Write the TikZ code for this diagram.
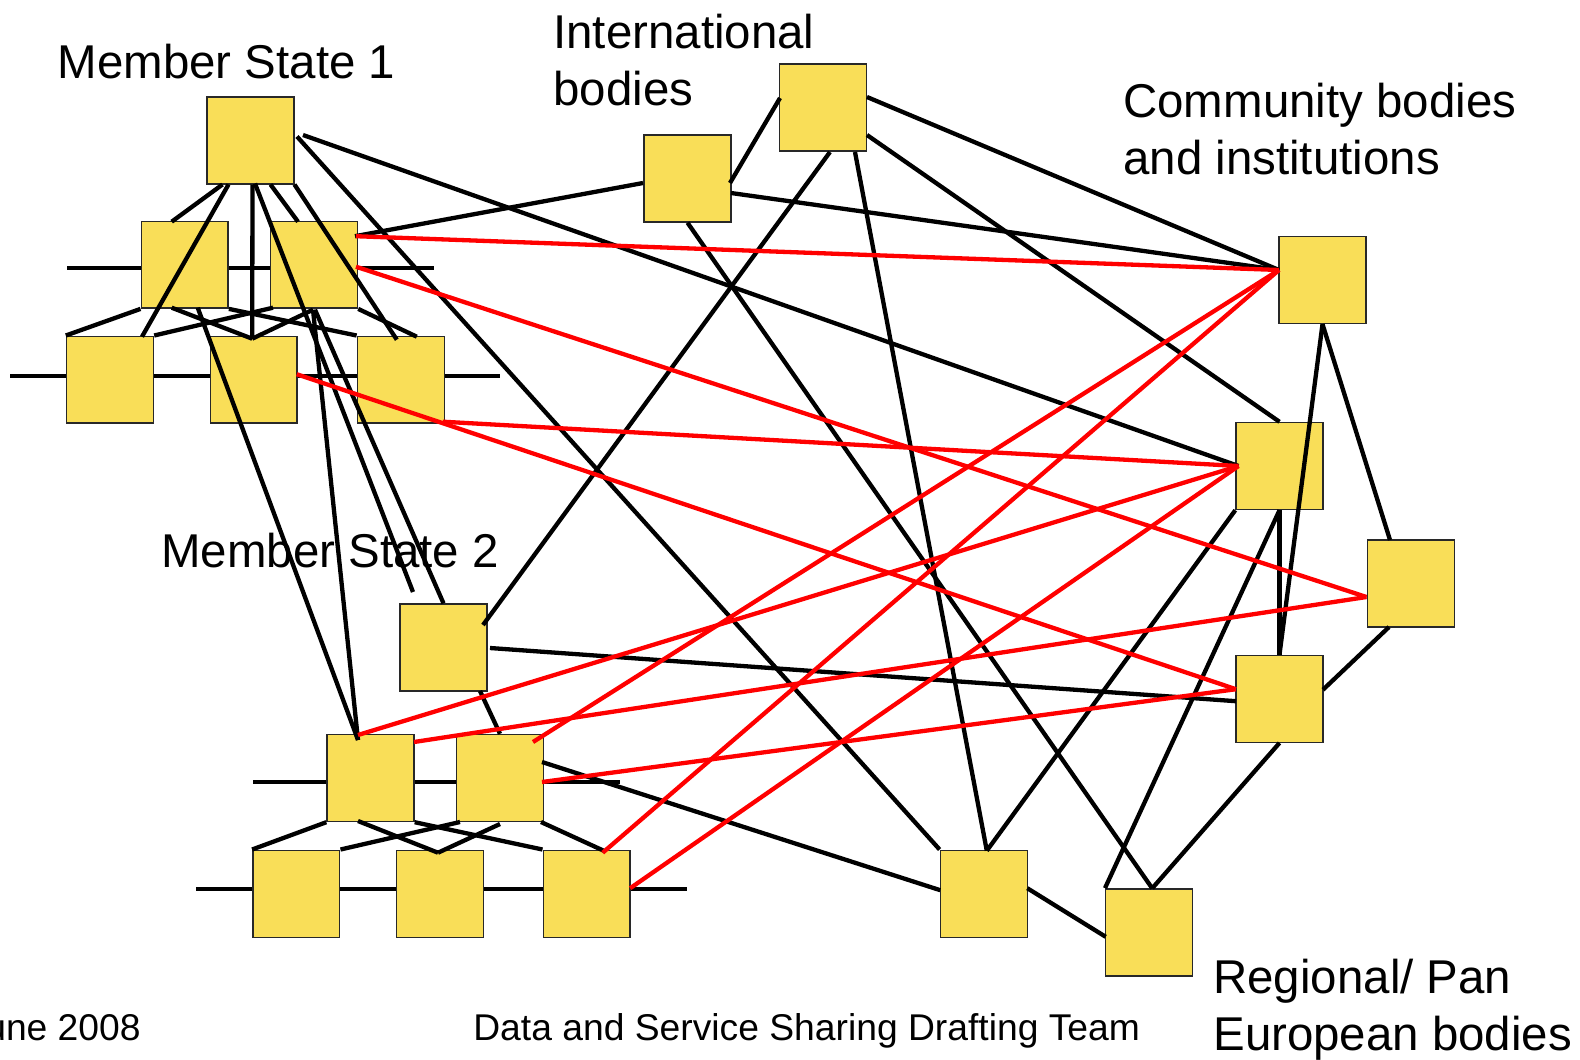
\documentclass[tikz,border=0pt]{standalone}
\usepackage{fontspec}
\setmainfont{Liberation Sans}
\definecolor{boxfill}{RGB}{249, 222, 88}
\definecolor{boxline}{RGB}{40, 40, 40}
\definecolor{sharered}{RGB}{255, 0, 0}
\usetikzlibrary{calc}
\tikzset{
    orgbox/.style={
        rectangle,
        draw=boxline,
        fill=boxfill,
        line width=0.8pt,
        minimum width=1.74cm,
        minimum height=1.74cm,
        inner sep=0pt
    },
    grouplabel/.style={
        anchor=base west,
        inner sep=0pt,
        align=left,
        font=\fontsize{27}{32.5}\selectfont
    },
    footlabel/.style={anchor=base west, inner sep=0pt, font=\fontsize{21.2}{25}\selectfont},
    busstyle/.style={line width=2.45pt, color=black},
    linkstyle/.style={line width=2.45pt, color=black},
    sharestyle/.style={line width=2.45pt, color=sharered}
}

\begin{document}
\begin{tikzpicture}[x=0.02cm, y=-0.02cm]
          \useasboundingbox (0,0) rectangle (1580,1059);

          \coordinate (busa-w) at (67,268.3);
          \coordinate (busa-e) at (434,268.3);
          \coordinate (busb-w) at (10,375.7);
          \coordinate (busb-e) at (500,375.7);
          \coordinate (busc-w) at (253,781.7);
          \coordinate (busc-e) at (620,781.7);
          \coordinate (busd-w) at (196,889.3);
          \coordinate (busd-e) at (687,889.3);
          \coordinate (ms1tip) at (413,592);
          \draw[busstyle] (busa-w) -- (busa-e);
          \draw[busstyle] (busb-w) -- (busb-e);
          \draw[busstyle] (busc-w) -- (busc-e);
          \draw[busstyle] (busd-w) -- (busd-e);

          \node[orgbox] (m1) at (250.5,140.5) {};
          \node[orgbox] (a1) at (184.7,264.7) {};
          \node[orgbox] (a2) at (314,264.7) {};
          \node[orgbox] (b1) at (110,379.7) {};
          \node[orgbox] (b2) at (253.7,379.7) {};
          \node[orgbox] (b3) at (400.8,379.7) {};
          \node[orgbox] (m2) at (443.5,647.5) {};
          \node[orgbox] (c1) at (370.5,778) {};
          \node[orgbox] (c2) at (500,778) {};
          \node[orgbox] (d1) at (296.3,893.7) {};
          \node[orgbox] (d2) at (440,893.7) {};
          \node[orgbox] (d3) at (586.7,893.7) {};
          \node[orgbox] (i1) at (687.5,178.5) {};
          \node[orgbox] (i2) at (823,107.5) {};
          \node[orgbox] (cb1) at (1322.5,280) {};
          \node[orgbox] (cb2) at (1279.5,466) {};
          \node[orgbox] (cb3) at (1411,583.5) {};
          \node[orgbox] (cb4) at (1279.5,698.7) {};
          \node[orgbox] (r1) at (983.8,893.7) {};
          \node[orgbox] (r2) at (1149.2,932.3) {};

          \node[grouplabel] (ms1label) at (57.4,78.5) {Member State 1};
          \node[grouplabel, anchor=north west] (intlabel) at (553,13.8) {International\\bodies};
          \node[grouplabel, anchor=north west] (comlabel) at (1123,82.5) {Community bodies\\and institutions};
          \node[grouplabel] (ms2label) at (161,567) {Member State 2};
          \node[grouplabel, anchor=north west] (reglabel) at (1213,958.5) {Regional/ Pan\\European bodies};
          \node[footlabel, anchor=base east] (datelabel) at (141,1040) {June 2008};
          \node[footlabel] (teamlabel) at (473,1040) {Data and Service Sharing Drafting Team};

          \draw[linkstyle] ($(m1)+(-28,44)$) -- ($(a1)+(-13,-43)$);
          \draw[linkstyle] ($(m1)+(20,44)$) -- ($(a2)+(-16,-43)$);
          \draw[linkstyle] ($(m1)+(-22,44)$) -- ($(b1)+(32,-43)$);
          \draw[linkstyle] ($(m1)+(2,44)$) -- ($(b2)+(-1.5,-41)$);
          \draw[linkstyle] ($(m1)+(44,44)$) -- ($(b3)+(-4,-40)$);
          \draw[linkstyle] (a1.south west) -- (b1.north west);
          \draw[linkstyle] ($(a1)+(-13,43)$) -- ($(b2)+(-1.5,-41)$);
          \draw[linkstyle] (a1.south east) -- (b3.north west);
          \draw[linkstyle] ($(a2)+(-41,43)$) -- (b1.north east);
          \draw[linkstyle] ($(a2)+(-1,45)$) -- ($(b2)+(-1.5,-41)$);
          \draw[linkstyle] (a2.south east) -- ($(b3)+(16,-43)$);
          \draw[linkstyle] ($(a1)+(13,43)$) -- ($(c1)+(-12.5,-38)$);
          \draw[linkstyle] ($(a2)+(-1,45)$) -- ($(c1)+(-12.5,-38)$);
          \draw[linkstyle] ($(a2)+(1,45)$) -- (m2.north);
          \draw[linkstyle] ($(m1)+(4.5,43)$) -- (ms1tip);

          \draw[linkstyle] ($(m2)+(36.5,43.5)$) -- (c2.north);
          \draw[linkstyle] (c1.south west) -- (d1.north west);
          \draw[linkstyle] ($(c1)+(-12.5,43)$) -- ($(d2)+(-2,-41)$);
          \draw[linkstyle] (c1.south east) -- (d3.north west);
          \draw[linkstyle] ($(c2)+(-40,44)$) -- (d1.north east);
          \draw[linkstyle] ($(c2)+(0,46)$) -- ($(d2)+(-2,-41)$);
          \draw[linkstyle] ($(c2)+(41,44)$) -- ($(d3)+(17,-43)$);

          \draw[linkstyle] ($(m1)+(52.5,-5.5)$) -- ($(cb2)+(-41,0)$);
          \draw[linkstyle] ($(m1)+(46.5,-4)$) -- (r1.north west);
          \draw[linkstyle] ($(i1)+(-44.5,4.5)$) -- ($(a2)+(41,-28.5)$);
          \draw[linkstyle] ($(i1)+(42.5,4.5)$) -- ($(i2)+(-43,-9.5)$);
          \draw[linkstyle] ($(i1)+(43.5,14.5)$) -- ($(cb1)+(-43.5,-10)$);
          \draw[linkstyle] (i1.south) -- ($(r2)+(3,-44)$);
          \draw[linkstyle] ($(i2)+(7,44.5)$) -- ($(m2)+(39.5,-22.5)$);
          \draw[linkstyle] ($(i2)+(32,44.5)$) -- ($(r1)+(3,-43)$);
          \draw[linkstyle] ($(i2)+(44,-10.5)$) -- ($(cb1)+(-43.5,-10)$);
          \draw[linkstyle] ($(i2)+(44,27.5)$) -- (cb2.north);
          \draw[linkstyle] (cb1.south) -- ($(cb3)+(-21,-43.5)$);
          \draw[linkstyle] (cb1.south) -- (cb4.north);
          \draw[linkstyle] (cb2.south) -- (cb4.north);
          \draw[linkstyle] ($(cb3)+(-22,43.5)$) -- ($(cb4)+(43.5,-9)$);
          \draw[linkstyle] (cb2.south west) -- ($(r1)+(3,-43)$);
          \draw[linkstyle] (cb2.south) -- (r2.north west);
          \draw[linkstyle] (cb4.south) -- ($(r2)+(3,-44)$);
          \draw[linkstyle] ($(m2)+(46.5,0.5)$) -- ($(cb4)+(-43.5,2.5)$);
          \draw[linkstyle] ($(c2)+(42,-16)$) -- ($(r1)+(-43.5,-3.5)$);
          \draw[linkstyle] ($(r1)+(43.5,-5.5)$) -- ($(r2)+(-43.5,4.5)$);

          \draw[sharestyle] ($(a2)+(42,-28.5)$) -- ($(cb1)+(-43.5,-10)$);
          \draw[sharestyle] ($(a2)+(42,2)$) -- ($(cb3)+(-44.5,13.5)$);
          \draw[sharestyle] ($(b2)+(43,-5.5)$) -- ($(cb4)+(-43.5,-9.5)$);
          \draw[sharestyle] ($(b3)+(42,42)$) -- ($(cb2)+(-41,0)$);
          \draw[sharestyle] ($(c1)+(-12.5,-43)$) -- ($(cb2)+(-41,0)$);
          \draw[sharestyle] ($(c1)+(43.5,-36)$) -- ($(cb3)+(-44.5,13.5)$);
          \draw[sharestyle] ($(c2)+(33,-36)$) -- ($(cb1)+(-43.5,-10)$);
          \draw[sharestyle] ($(c2)+(42,4)$) -- ($(cb4)+(-43.5,-9.5)$);
          \draw[sharestyle] ($(d3)+(16,-41)$) -- ($(cb1)+(-43.5,-10)$);
          \draw[sharestyle] ($(d3)+(43.5,-5.5)$) -- ($(cb2)+(-41,0)$);
        \end{tikzpicture}
\end{document}
